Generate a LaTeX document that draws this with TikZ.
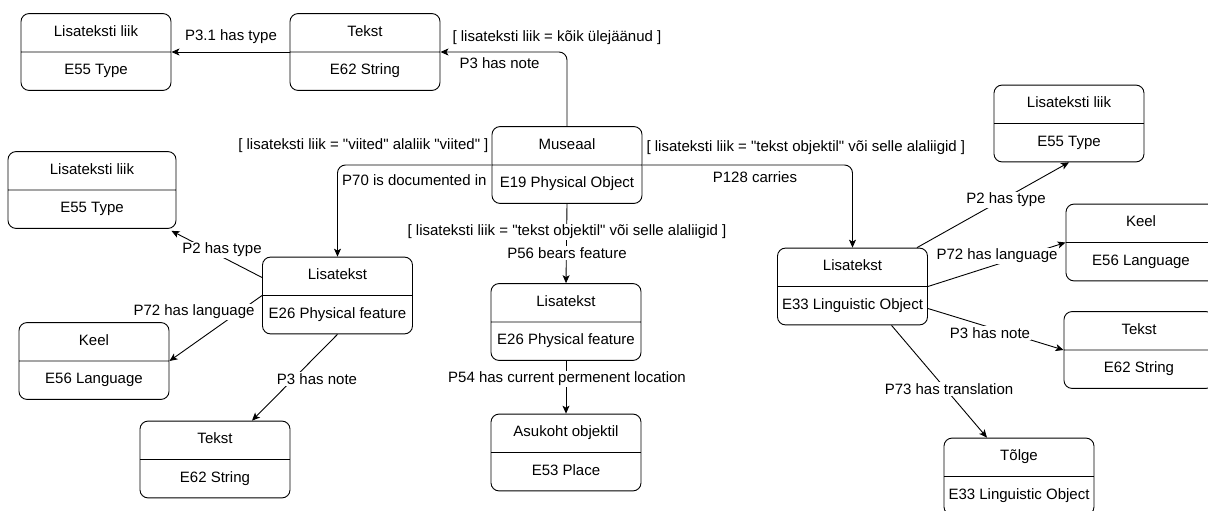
\documentclass[tikz,border=0pt]{standalone}
\usepackage{fontspec}
\setmainfont{Liberation Sans}
\usetikzlibrary{arrows.meta, shapes.multipart}

% two-part class box: name on top, CIDOC class below
\newcommand\ent[2]{\strut#1\nodepart{two}\strut#2}
\newcommand\qd{\textquotedbl}

\begin{document}
\begin{tikzpicture}[
    x=1pt, y=-1pt,
    >={Stealth[length=8pt,width=7pt,inset=2pt]},
    every node/.style={font=\fontsize{15}{18}\selectfont},
    entity/.style={rectangle split, rectangle split parts=2, draw,
                   line width=0.9pt, rounded corners=8pt,
                   minimum width=150pt, inner xsep=2pt, inner ysep=9.75pt},
    rel/.style={->, line width=0.9pt},
    elbow/.style={rel, rounded corners=8pt},
    lbl/.style={fill=white, inner sep=1pt}
  ]
  \useasboundingbox (0,0) rectangle (1208,511);

  % Museaal in the middle
  \node[entity] (museaal) at (567,165) {\ent{Museaal}{E19 Physical Object}};

  % top row
  \node[entity] (topTekst) at (365,52) {\ent{Tekst}{E62 String}};
  \node[entity] (topLiik) at (96,52) {\ent{Lisateksti liik}{E55 Type}};

  % left branch
  \node[entity] (leftLisa) at (337.5,295.5) {\ent{Lisatekst}{E26 Physical feature}};
  \node[entity, minimum width=168pt] (leftLiik) at (92,190) {\ent{Lisateksti liik}{E55 Type}};
  \node[entity] (leftKeel) at (94,361) {\ent{Keel}{E56 Language}};
  \node[entity] (leftTekst) at (215,459.5) {\ent{Tekst}{E62 String}};

  % middle branch
  \node[entity] (midLisa) at (566,322) {\ent{Lisatekst}{E26 Physical feature}};
  \node[entity] (asukoht) at (566,452.5) {\ent{Asukoht objektil}{E53 Place}};

  % right branch
  \node[entity] (rightLisa) at (852.5,286.5) {\ent{Lisatekst}{E33 Linguistic Object}};
  \node[entity] (rightLiik) at (1069,123.5) {\ent{Lisateksti liik}{E55 Type}};
  \node[entity] (rightKeel) at (1141,242.5) {\ent{Keel}{E56 Language}};
  \node[entity] (rightTekst) at (1139,350) {\ent{Tekst}{E62 String}};
  \node[entity] (tolge) at (1019,476.5) {\ent{Tõlge}{E33 Linguistic Object}};

  % connectors out of Museaal
  \draw[rel] (topTekst.west) -- (topLiik.east);
  \draw[elbow] (museaal.north) |- (topTekst.east);
  \draw[elbow] (museaal.text split west) -| (leftLisa.north);
  \draw[elbow] (museaal.text split east) -| (rightLisa.north);
  \draw[rel] (museaal.south) -- (midLisa.north);
  \draw[rel] (midLisa.south) -- (asukoht.north);

  % left Lisatekst
  \draw[rel] ([yshift=18pt]leftLisa.west) -- ([xshift=-5pt,yshift=-2pt]leftLiik.south east);
  \draw[rel] (leftLisa.text split west) -- (leftKeel.text split east);
  \draw[rel] (leftLisa.south) -- ([xshift=37pt]leftTekst.north);

  % right Lisatekst
  \draw[rel] ([xshift=-11pt]rightLisa.north east) -- (rightLiik.south);
  \draw[rel] (rightLisa.text split east) -- (rightKeel.text split west);
  \draw[rel] ([yshift=-22pt]rightLisa.text split east) -- (rightTekst.text split west);
  \draw[rel] ([xshift=39pt]rightLisa.south) -- ([xshift=-32pt]tolge.north);

  % labels
  \node (lblTyp) at (231,37) {P3.1 has type};
  \node[anchor=west] (condTop) at (449,38) {[ lisateksti liik = kõik ülejäänud ]};
  \node[anchor=west] (lblNoteTop) at (456,63) {P3 has note};
  \node[anchor=east] (condLeft) at (492,146) {[ lisateksti liik = \qd viited\qd\ alaliik \qd viited\qd\ ]};
  \node[anchor=east] (lblDoc) at (490,180) {P70 is documented in};
  \node[anchor=west] (condRight) at (643,148) {[ lisateksti liik = \qd tekst objektil\qd\ või selle alaliigid ]};
  \node (lblCarries) at (755,177) {P128 carries};
  \node[lbl] (condMid) at (567,232) {[ lisateksti liik = \qd tekst objektil\qd\ või selle alaliigid ]};
  \node[lbl] (lblBears) at (567,253) {P56 bears feature};
  \node[lbl] (lblLoc) at (567,379) {P54 has current permenent location};

  \node[lbl] (lblTypL) at (222,250) {P2 has type};
  \node[lbl] (lblLangL) at (194,312) {P72 has language};
  \node[lbl] (lblNoteL) at (317,379) {P3 has note};

  \node[lbl] (lblTypR) at (1006,200) {P2 has type};
  \node[lbl] (lblLangR) at (997,256) {P72 has language};
  \node[lbl] (lblNoteR) at (990,333) {P3 has note};
  \node[lbl] (lblTransl) at (949,389) {P73 has translation};
\end{tikzpicture}
\end{document}
